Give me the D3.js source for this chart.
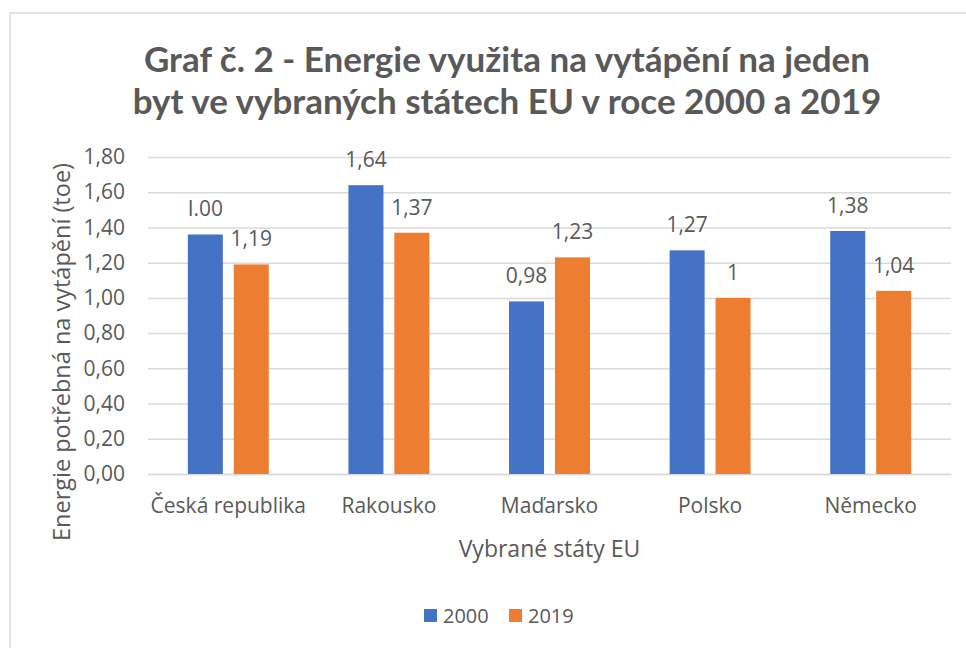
<!DOCTYPE html>
<html>
<head>
<meta charset="utf-8">
<script src="https://cdnjs.cloudflare.com/ajax/libs/d3/7.8.5/d3.min.js"></script>
<style>
  body { margin: 0; background: #fff; }
  svg text { font-family: "Open Sans", sans-serif; fill: #595959; }
</style>
</head>
<body>
<script>
const categories = ["Česká republika", "Rakousko", "Maďarsko", "Polsko", "Německo"];
const seriesNames = ["2000", "2019"];
const values2000 = [1.36, 1.64, 0.98, 1.27, 1.38];
const values2019 = [1.19, 1.37, 1.23, 1.00, 1.04];
const labels2000 = ["I.00", "1,64", "0,98", "1,27", "1,38"];
const labels2019 = ["1,19", "1,37", "1,23", "1", "1,04"];
const yTicks = [0, 0.2, 0.4, 0.6, 0.8, 1.0, 1.2, 1.4, 1.6, 1.8];
const colors = ["#4472C4", "#ED7D31"];

const W = 966, H = 648;
const plot = { left: 148, right: 951, top: 157, bottom: 474 };

const svg = d3.select("body").append("svg")
    .attr("width", W)
    .attr("height", H);

// ramecek grafu
svg.append("rect")
    .attr("x", 10).attr("y", 13)
    .attr("width", W + 10).attr("height", H + 10)
    .attr("fill", "none")
    .attr("stroke", "#D9D9D9")
    .attr("stroke-width", 1.5);

// titulek
const title = svg.append("text")
    .attr("text-anchor", "middle")
    .style("font-family", "Lato, sans-serif")
    .style("font-weight", "bold")
    .style("font-size", "35px");
title.append("tspan").attr("x", 507).attr("y", 72).text("Graf č. 2 - Energie využita na vytápění na jeden");
title.append("tspan").attr("x", 507).attr("y", 114).text("byt ve vybraných státech EU v roce 2000 a 2019");

const x = d3.scaleBand()
    .domain(categories)
    .range([plot.left, plot.right])
    .paddingInner(0).paddingOuter(0);

const y = d3.scaleLinear()
    .domain([0, 1.8])
    .range([plot.bottom, plot.top]);

// mrizka
const yAxis = d3.axisLeft(y)
    .tickValues(yTicks)
    .tickSize(-(plot.right - plot.left))
    .tickPadding(23)
    .tickFormat(d => d3.format(".2f")(d).replace(".", ","));

const gy = svg.append("g")
    .attr("transform", "translate(" + plot.left + ",0)")
    .call(yAxis);
gy.select(".domain").remove();
gy.selectAll("line").attr("stroke", "#D9D9D9").attr("stroke-width", 1.5);
gy.selectAll("text").style("font-size", "21px").attr("fill", "#595959");

// x osa
const xAxis = d3.axisBottom(x).tickSize(0).tickPadding(24);
const gx = svg.append("g")
    .attr("transform", "translate(0," + plot.bottom + ")")
    .call(xAxis);
gx.select(".domain").attr("stroke", "#D9D9D9").attr("stroke-width", 1.5);
gx.selectAll("text").style("font-size", "21px").attr("fill", "#595959");

const barW = x.bandwidth() * 0.218;
const gap = x.bandwidth() * 0.068;

const series = [
    { name: seriesNames[0], values: values2000, labels: labels2000, color: colors[0], off: -gap / 2 - barW },
    { name: seriesNames[1], values: values2019, labels: labels2019, color: colors[1], off: gap / 2 }
];

series.forEach(s => {
    const g = svg.append("g");
    g.selectAll("rect")
        .data(categories)
        .enter()
        .append("rect")
        .attr("x", (d, i) => x(d) + x.bandwidth() / 2 + s.off)
        .attr("y", (d, i) => y(s.values[i]))
        .attr("width", barW)
        .attr("height", (d, i) => y(0) - y(s.values[i]))
        .attr("fill", s.color);
    g.selectAll("text")
        .data(categories)
        .enter()
        .append("text")
        .attr("x", (d, i) => x(d) + x.bandwidth() / 2 + s.off + barW / 2)
        .attr("y", (d, i) => y(s.values[i]) - 18)
        .attr("text-anchor", "middle")
        .style("font-size", "21px")
        .text((d, i) => s.labels[i]);
});

// popisky os
svg.append("text")
    .attr("x", (plot.left + plot.right) / 2)
    .attr("y", 557)
    .attr("text-anchor", "middle")
    .style("font-size", "23px")
    .text("Vybrané státy EU");

svg.append("text")
    .attr("transform", "translate(70,352) rotate(-90)")
    .attr("text-anchor", "middle")
    .style("font-size", "23.5px")
    .text("Energie potřebná na vytápění (toe)");

// legenda
const legend = svg.append("g");
const legX = [424, 509];
series.forEach((s, i) => {
    legend.append("rect")
        .attr("x", legX[i]).attr("y", 609)
        .attr("width", 13).attr("height", 13)
        .attr("fill", s.color);
    legend.append("text")
        .attr("x", legX[i] + 19).attr("y", 623)
        .style("font-size", "20px")
        .text(s.name);
});
</script>
</body>
</html>
